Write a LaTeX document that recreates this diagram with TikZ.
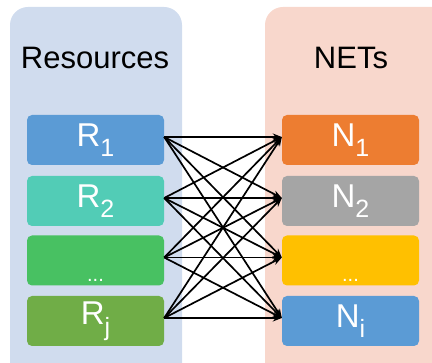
\documentclass[tikz,border=0pt]{standalone}
\usepackage{fontspec}
\setmainfont{Liberation Sans}
\usetikzlibrary{arrows.meta}
\definecolor{panelL}{HTML}{D0DCEE}
\definecolor{panelR}{HTML}{F8D7CC}
\definecolor{cR1}{HTML}{5B9BD5}
\definecolor{cR2}{HTML}{52CCB6}
\definecolor{cR3}{HTML}{48C162}
\definecolor{cRj}{HTML}{70AD47}
\definecolor{cN1}{HTML}{ED7D31}
\definecolor{cN2}{HTML}{A5A5A5}
\definecolor{cN3}{HTML}{FFC000}
\definecolor{cNi}{HTML}{5B9BD5}
\newcommand{\lowsub}[1]{\raisebox{-0.32em}{\fontsize{25}{25}\selectfont #1}}
\tikzset{
  panel/.style={rounded corners=18pt},
  item/.style={rounded corners=5pt, minimum width=137pt, minimum height=50pt,
    inner sep=0pt, text=white, font=\fontsize{33}{33}\selectfont},
  title/.style={font=\fontsize{31}{31}\selectfont, text=black},
  link/.style={-{Stealth[length=9pt,width=7pt]}, line width=1.7pt, black},
}
\begin{document}
\begin{tikzpicture}[x=1pt,y=-1pt]
\useasboundingbox (0,0) rectangle (432,363);
\clip (0,0) rectangle (432,363);
% column backgrounds
\fill[panelL, panel] (10,7) rectangle (182,390);
\fill[panelR, panel] (265,7) rectangle (460,390);
% column headings
\node[title] (tl) at (95,58) {Resources};
\node[title] (tr) at (351,58) {NETs};
% resource boxes
\node[item, fill=cR1] (r1) at (95.5,140) {R\lowsub{1}};
\node[item, fill=cR2] (r2) at (95.5,201) {R\lowsub{2}};
\node[item, fill=cR3] (r3) at (95.5,260.5) {};
\node[item, fill=cRj] (rj) at (95.5,321) {R\lowsub{j}};
% net boxes
\node[item, fill=cN1] (n1) at (350.5,140) {N\lowsub{1}};
\node[item, fill=cN2] (n2) at (350.5,201) {N\lowsub{2}};
\node[item, fill=cN3] (n3) at (350.5,260.5) {};
\node[item, fill=cNi] (ni) at (350.5,321) {N\lowsub{i}};
% ellipses at the bottom of the middle boxes
\node[text=white, font=\fontsize{20}{20}\selectfont, anchor=base] (d1) at (95.5,282) {...};
\node[text=white, font=\fontsize{20}{20}\selectfont, anchor=base] (d2) at (350.5,282) {...};
% every resource linked to every net
\foreach \a in {r1,r2,r3,rj}{
  \foreach \b in {n1,n2,n3,ni}{
    \draw[link] ([yshift=3pt]\a.east) -- ([yshift=3pt]\b.west);
  }
}
\end{tikzpicture}
\end{document}
